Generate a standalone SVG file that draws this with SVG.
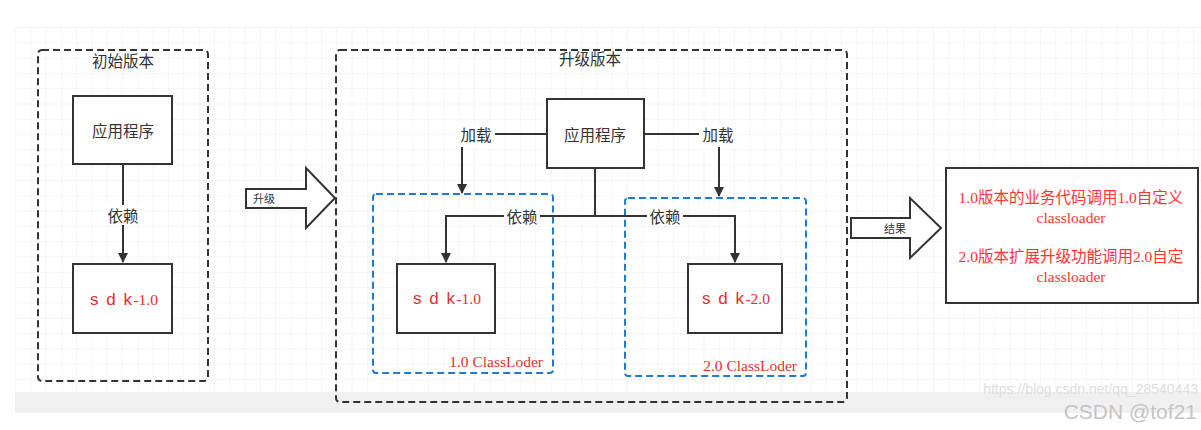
<svg xmlns="http://www.w3.org/2000/svg" width="1201" height="430" viewBox="0 0 1201 430">
<defs>
<pattern id="grid" x="15" y="27" width="15.3" height="15.3" patternUnits="userSpaceOnUse">
<path d="M0 0H15.3M0 0V15.3" fill="none" stroke="#ececec" stroke-width="1"/>
</pattern>
<marker id="ah" viewBox="0 0 10 10" refX="9" refY="5" markerWidth="10" markerHeight="10" markerUnits="userSpaceOnUse" orient="auto">
<path d="M0 0L10 5L0 10Z" fill="#333"/>
</marker>
<style>
.box{fill:#fff;stroke:#333;stroke-width:2}
.dash{fill:none;stroke:#333;stroke-width:2;stroke-dasharray:7 4}
.blue{fill:none;stroke:#1f7ad6;stroke-width:2;stroke-dasharray:7 4}
.ln{fill:none;stroke:#333;stroke-width:2}
.t{font-family:"Noto Sans CJK SC","Liberation Sans",sans-serif;font-size:15.5px;fill:#333;text-anchor:middle;dominant-baseline:central}
.ts{font-size:11px}
.lbl{fill:#fff}
.red{font-family:"Liberation Serif","Noto Sans CJK SC",serif;font-size:15.5px;fill:#e03030}
.sdk{font-family:"Liberation Sans",sans-serif;font-size:17px;letter-spacing:1.5px;fill:#e03030;text-anchor:middle;dominant-baseline:central}
.res{font-family:"Liberation Serif","Noto Sans CJK SC",serif;font-size:15.5px;fill:#ff3333;text-anchor:middle;dominant-baseline:central}
</style>
</defs>
<rect x="0" y="0" width="1201" height="430" fill="#fff"/>
<rect x="15" y="27" width="1186" height="365" fill="url(#grid)"/>
<rect x="15" y="392" width="1186" height="21" fill="#f0f0f0"/>

<g id="initial-version">
<rect class="dash" x="38" y="50" width="170" height="331" rx="4"/>
<text class="t" x="123" y="60">初始版本</text>
</g>
<g id="app1">
<rect class="box" x="73" y="96" width="99" height="68"/>
<text class="t" x="123" y="130">应用程序</text>
</g>
<g id="sdk1-left">
<rect class="box" x="73" y="264" width="99" height="69"/>
<text class="sdk" x="124" y="299">s d k<tspan font-family="Liberation Serif" font-size="15.5" letter-spacing="0">-1.0</tspan></text>
</g>

<g id="upgrade-arrow">
<path d="M246 189H306V168L335 198L306 228V208H246Z" fill="#fff" stroke="#333" stroke-width="2" stroke-linejoin="miter"/>
<text class="t ts" x="264" y="198">升级</text>
</g>

<g id="upgraded-version">
<rect class="dash" x="336" y="50" width="511" height="352" rx="4"/>
<text class="t" x="590" y="58">升级版本</text>
</g>
<g id="cl1">
<rect class="blue" x="373" y="194" width="180" height="179" rx="3"/>
<text class="red" x="543" y="367" text-anchor="end">1.0 ClassLoder</text>
</g>
<g id="cl2">
<rect class="blue" x="625" y="198" width="181" height="178" rx="3"/>
<text class="red" x="797" y="371" text-anchor="end">2.0 ClassLoder</text>
</g>
<g id="app2">
<rect class="box" x="547" y="99" width="97" height="69"/>
<text class="t" x="595" y="134">应用程序</text>
</g>
<g id="sdk1">
<rect class="box" x="397" y="264" width="98" height="69"/>
<text class="sdk" x="447" y="298">s d k<tspan font-family="Liberation Serif" font-size="15.5" letter-spacing="0">-1.0</tspan></text>
</g>
<g id="sdk2">
<rect class="box" x="688" y="264" width="94" height="69"/>
<text class="sdk" x="736" y="298">s d k<tspan font-family="Liberation Serif" font-size="15.5" letter-spacing="0">-2.0</tspan></text>
</g>

<g id="result-arrow">
<path d="M851 218H910V198L941 228L910 258V238H851Z" fill="#fff" stroke="#333" stroke-width="2"/>
<text class="t ts" x="895" y="228">结果</text>
</g>
<g id="result">
<rect class="box" x="946" y="168" width="252" height="135"/>
<text class="res" x="1071" y="197">1.0版本的业务代码调用1.0自定义</text>
<text class="res" x="1071" y="217">classloader</text>
<text class="res" x="1071" y="256">2.0版本扩展升级功能调用2.0自定</text>
<text class="res" x="1071" y="276">classloader</text>
</g>

<g id="connectors">
<path class="ln" d="M123 164V262" marker-end="url(#ah)"/>
<rect class="lbl" x="104" y="205" width="38" height="20"/>
<text class="t" x="123" y="215">依赖</text>

<path class="ln" d="M547 134H462V193" marker-end="url(#ah)"/>
<rect class="lbl" x="457" y="123" width="38" height="24"/>
<text class="t" x="476" y="134">加载</text>
<path class="ln" d="M644 134H719V196" marker-end="url(#ah)"/>
<rect class="lbl" x="699" y="123" width="38" height="24"/>
<text class="t" x="718" y="134">加载</text>

<path class="ln" d="M595 168V216"/>
<path class="ln" d="M595 216H446V262" marker-end="url(#ah)"/>
<path class="ln" d="M595 216H735V262" marker-end="url(#ah)"/>
<rect class="lbl" x="504" y="206" width="36" height="20"/>
<text class="t" x="522" y="216">依赖</text>
<rect class="lbl" x="647" y="206" width="36" height="20"/>
<text class="t" x="665" y="216">依赖</text>
</g>

<g id="watermark">
<text x="1198" y="389" text-anchor="end" dominant-baseline="central" font-family="Liberation Sans,sans-serif" font-size="14" fill="#dedede">https://blog.csdn.net/qq_28540443</text>
<text x="1197" y="411" text-anchor="end" dominant-baseline="central" font-family="Liberation Sans,sans-serif" font-size="21" fill="#c4c4c4">CSDN @tof21</text>
</g>
</svg>
